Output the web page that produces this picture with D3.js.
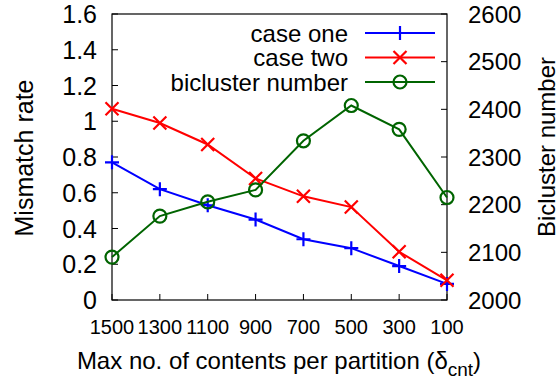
<!DOCTYPE html>
<html>
<head>
<meta charset="utf-8">
<script src="https://cdn.jsdelivr.net/npm/d3@7"></script>
<style>
  html, body { margin: 0; padding: 0; background: #fff; }
  svg text { font-family: "Liberation Sans", Arial, Helvetica, sans-serif; fill: #000; }
</style>
</head>
<body>
<svg id="chart" width="559" height="383"></svg>
<script>
// Partition size settings (x axis, left to right)
const partitions = ["1500", "1300", "1100", "900", "700", "500", "300", "100"];
// Mismatch rate for both cases (left axis)
const caseOne = [0.77, 0.62, 0.53, 0.45, 0.34, 0.29, 0.19, 0.09];
const caseTwo = [1.07, 0.99, 0.87, 0.68, 0.58, 0.52, 0.27, 0.11];
// Number of biclusters (right axis)
const biclusterNumber = [2090, 2176, 2206, 2231, 2334, 2408, 2358, 2215];
// Axis tick values
const leftTicks = [0, 0.2, 0.4, 0.6, 0.8, 1, 1.2, 1.4, 1.6];
const rightTicks = [2000, 2100, 2200, 2300, 2400, 2500, 2600];

const svg = d3.select("#chart");
const plot = { left: 112, right: 447, top: 14, bottom: 300 };
const labelSize = 24;

const x = d3.scalePoint().domain(partitions).range([plot.left, plot.right]);
const yL = d3.scaleLinear().domain([0, 1.6]).range([plot.bottom, plot.top]);
const yR = d3.scaleLinear().domain([2000, 2600]).range([plot.bottom, plot.top]);

// Frame
svg.append("rect")
  .attr("x", plot.left).attr("y", plot.top)
  .attr("width", plot.right - plot.left).attr("height", plot.bottom - plot.top)
  .attr("fill", "none").attr("stroke", "#000").attr("stroke-width", 1.2);

// Inward ticks: left axis
const g = svg.append("g");
leftTicks.forEach(v => {
  g.append("line").attr("x1", plot.left).attr("x2", plot.left + 6)
    .attr("y1", yL(v)).attr("y2", yL(v)).attr("stroke", "#000");
  g.append("text").attr("x", 97).attr("y", yL(v)).attr("dy", "0.36em")
    .attr("text-anchor", "end").attr("font-size", 25)
    .text(d3.format("~g")(v));
});
// Right axis
rightTicks.forEach(v => {
  g.append("line").attr("x1", plot.right).attr("x2", plot.right - 6)
    .attr("y1", yR(v)).attr("y2", yR(v)).attr("stroke", "#000");
  g.append("text").attr("x", 468).attr("y", yR(v)).attr("dy", "0.36em")
    .attr("text-anchor", "start").attr("font-size", 24)
    .text(v);
});
// Bottom axis
partitions.forEach(p => {
  g.append("line").attr("x1", x(p)).attr("x2", x(p))
    .attr("y1", plot.bottom).attr("y2", plot.bottom - 6).attr("stroke", "#000");
  g.append("text").attr("x", x(p)).attr("y", 334)
    .attr("text-anchor", "middle").attr("font-size", 20)
    .text(p);
});

// Axis titles
svg.append("text")
  .attr("transform", `translate(33,158) rotate(-90)`)
  .attr("text-anchor", "middle").attr("font-size", 25)
  .text("Mismatch rate");
svg.append("text")
  .attr("transform", `translate(555,147) rotate(-90)`)
  .attr("text-anchor", "middle").attr("font-size", labelSize)
  .text("Bicluster number");
const xt = svg.append("text")
  .attr("x", 279).attr("y", 369)
  .attr("text-anchor", "middle").attr("font-size", labelSize);
xt.append("tspan").text("Max no. of contents per partition (δ");
xt.append("tspan").attr("font-size", 19).attr("dy", 7).text("cnt");
xt.append("tspan").attr("dy", -7).text(")");

// Marker drawing helpers
function plus(sel, cx, cy, color) {
  const s = 7;
  sel.append("path").attr("d", `M${cx - s},${cy}H${cx + s}M${cx},${cy - s}V${cy + s}`)
    .attr("stroke", color).attr("stroke-width", 2.2).attr("fill", "none");
}
function cross(sel, cx, cy, color) {
  const s = 6.5;
  sel.append("path").attr("d", `M${cx - s},${cy - s}L${cx + s},${cy + s}M${cx - s},${cy + s}L${cx + s},${cy - s}`)
    .attr("stroke", color).attr("stroke-width", 2.2).attr("fill", "none");
}
function circle(sel, cx, cy, color) {
  sel.append("circle").attr("cx", cx).attr("cy", cy).attr("r", 6.5)
    .attr("stroke", color).attr("stroke-width", 2.2).attr("fill", "none");
}

const series = [
  { name: "case one", values: caseOne, y: yL, color: "#0000ff", marker: plus },
  { name: "case two", values: caseTwo, y: yL, color: "#ff0000", marker: cross },
  { name: "bicluster number", values: biclusterNumber, y: yR, color: "#006400", marker: circle }
];

series.forEach(s => {
  const line = d3.line().x((d, i) => x(partitions[i])).y(d => s.y(d));
  svg.append("path").datum(s.values).attr("d", line)
    .attr("fill", "none").attr("stroke", s.color).attr("stroke-width", 2);
  const mg = svg.append("g");
  s.values.forEach((v, i) => s.marker(mg, x(partitions[i]), s.y(v), s.color));
});

// Legend
series.forEach((s, i) => {
  const ly = 33 + i * 24.5;
  svg.append("text").attr("x", 348).attr("y", ly).attr("dy", "0.36em")
    .attr("text-anchor", "end").attr("font-size", labelSize).text(s.name);
  svg.append("line").attr("x1", 365).attr("x2", 435).attr("y1", ly).attr("y2", ly)
    .attr("stroke", s.color).attr("stroke-width", 2);
  s.marker(svg, 400, ly, s.color);
});
</script>
</body>
</html>
